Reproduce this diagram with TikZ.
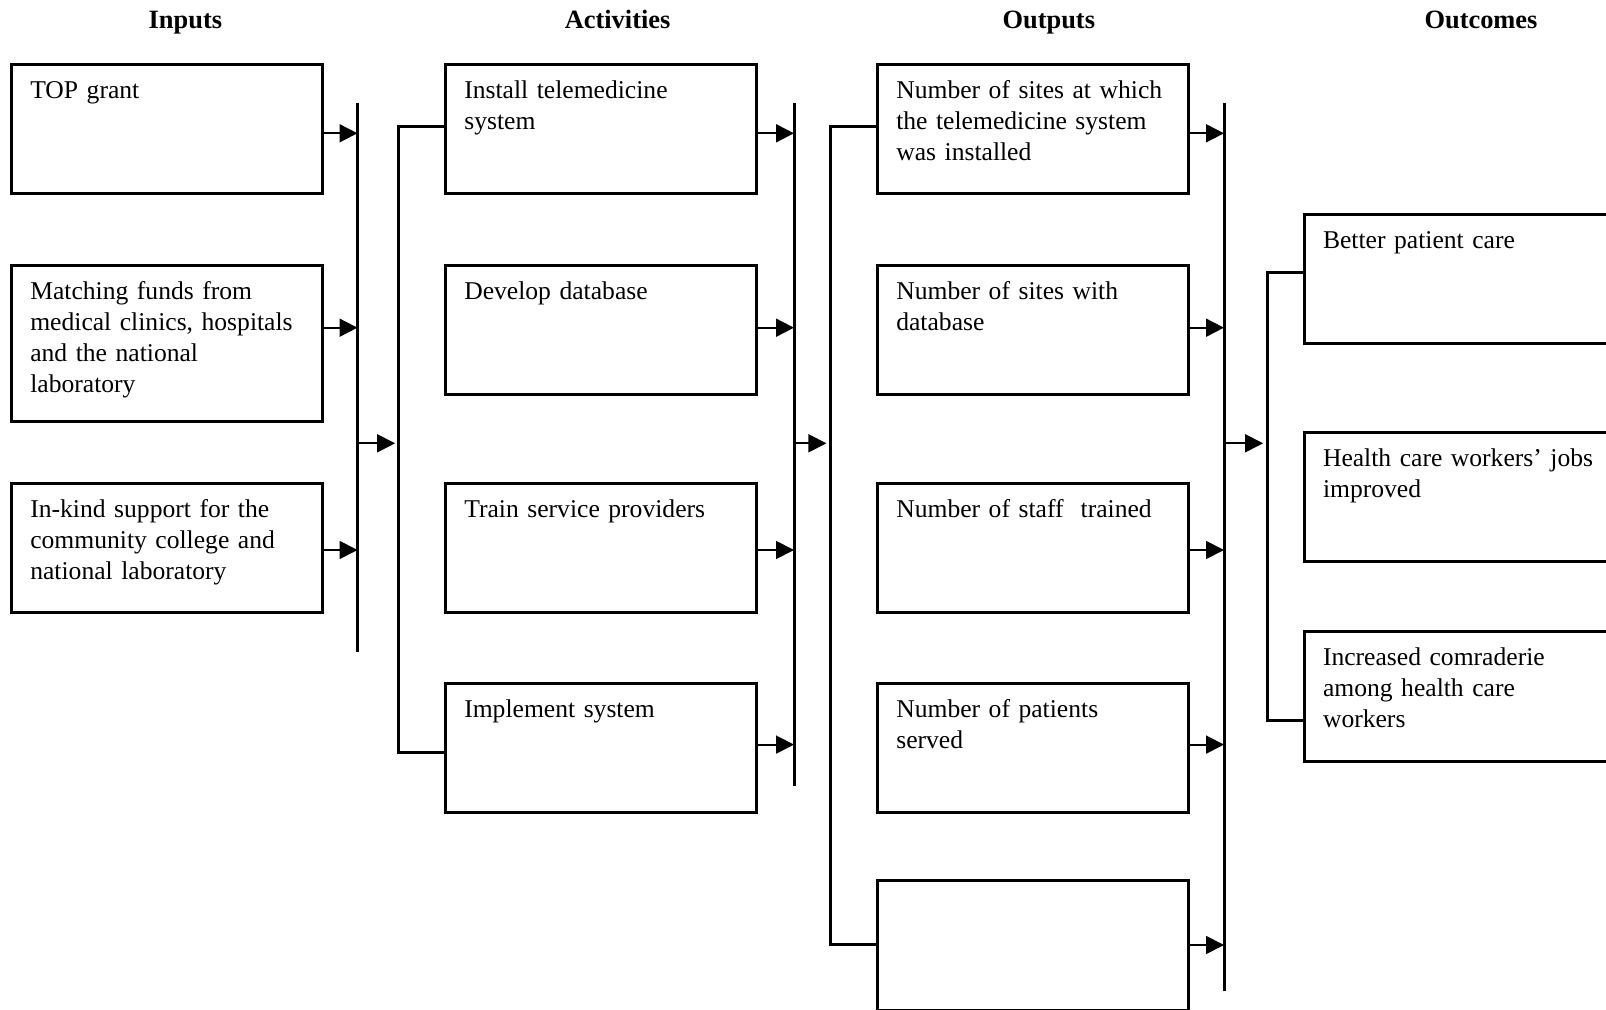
\documentclass[tikz,border=0pt]{standalone}
\usepackage{fontspec}
\setmainfont{Liberation Serif}
\usetikzlibrary{arrows.meta}

\tikzset{
  box/.style={draw, line width=1.5pt, anchor=north west, text width=136.7pt, align=left,
    inner xsep=9.4pt, inner ysep=8pt, text height=9pt, text depth=39.7pt,
    font=\fontsize{12.8}{15.5}\selectfont},
  tallbox/.style={box, text depth=52.7pt},
  widebox/.style={box, text width=142pt},
  head/.style={anchor=base, font=\fontsize{13.2}{15}\selectfont\bfseries},
  bus/.style={line width=1.5pt},
  feed/.style={line width=0.9pt, -{Triangle[length=9pt,width=9pt]}},
}

\begin{document}
\begin{tikzpicture}[x=0.5pt, y=-0.5pt]
    % page from (0,0) to (1606,1010), y runs down
    \useasboundingbox (0,0) rectangle (1606,1010);
    \clip (0,0) rectangle (1606,1010);

    % Column headings
    \node[head] (hIn)  at (185.4,28.3)  {Inputs};
    \node[head] (hAct) at (617.6,28.3)  {Activities};
    \node[head] (hOut) at (1048.8,28.3) {Outputs};
    \node[head] (hOc)  at (1481,28.3)   {Outcomes};

    % Inputs
    \node[box]     (in1) at (10,62.7)  {TOP grant};
    \node[tallbox] (in2) at (10,264.3) {Matching funds from\\medical clinics, hospitals\\and the national\\laboratory};
    \node[box]     (in3) at (10,481.7) {In-kind support for the\\community college and\\national laboratory};

    % Activities
    \node[box] (act1) at (444,62.7)  {Install telemedicine\\system};
    \node[box] (act2) at (444,263.8) {Develop database};
    \node[box] (act3) at (444,481.7) {Train service providers};
    \node[box] (act4) at (444,681.7) {Implement system};

    % Outputs
    \node[box] (out1) at (876,62.7)  {Number of sites at which\\the telemedicine system\\was installed};
    \node[box] (out2) at (876,263.8) {Number of sites with\\database};
    \node[box] (out3) at (876,481.7) {Number of staff~ trained};
    \node[box] (out4) at (876,681.7) {Number of patients\\served};
    \node[box] (out5) at (876,879.3) {};

    % Outcomes (cut off at the right edge)
    \node[widebox] (oc1) at (1302.7,212.6) {Better patient care};
    \node[widebox] (oc2) at (1302.7,430.7) {Health care workers’ jobs\\improved};
    \node[widebox] (oc3) at (1302.7,630.4) {Increased comraderie\\among health care\\workers};

    % rows of the small arrows
    \coordinate (r1) at (0,133.3);
    \coordinate (r2) at (0,327.7);
    \coordinate (r3) at (0,550);
    \coordinate (r4) at (0,744.6);
    \coordinate (r5) at (0,945);
    \coordinate (mid) at (0,443.3);

    % collecting lines
    \coordinate (inBusTop)  at (357.5,103);
    \coordinate (inBusBot)  at (357.5,652.4);
    \coordinate (actBusTop) at (794,103);
    \coordinate (actBusBot) at (794,785.7);
    \coordinate (outBusTop) at (1224,103);
    \coordinate (outBusBot) at (1224,990.7);
    \draw[bus] (inBusTop) -- (inBusBot);
    \draw[bus] (actBusTop) -- (actBusBot);
    \draw[bus] (outBusTop) -- (outBusBot);

    % brackets feeding the next column
    \coordinate (actBr) at (398.7,0);
    \coordinate (outBr) at (830,0);
    \coordinate (ocBr)  at (1267.5,0);
    \draw[bus] (act1.west |- 0,127) -- (actBr |- 0,127) -- (actBr |- 0,752.8) -- (act4.west |- 0,752.8);
    \draw[bus] (out1.west |- 0,127) -- (outBr |- 0,127) -- (outBr |- 0,944) -- (out5.west |- 0,944);
    \draw[bus] (oc1.west |- 0,272.3) -- (ocBr |- 0,272.3) -- (ocBr |- 0,720.3) -- (oc3.west |- 0,720.3);

    % Arrows into the collecting lines
    \draw[feed] (in1.east |- r1) -- (inBusTop |- r1);
    \draw[feed] (in2.east |- r2) -- (inBusTop |- r2);
    \draw[feed] (in3.east |- r3) -- (inBusTop |- r3);

    \draw[feed] (act1.east |- r1) -- (actBusTop |- r1);
    \draw[feed] (act2.east |- r2) -- (actBusTop |- r2);
    \draw[feed] (act3.east |- r3) -- (actBusTop |- r3);
    \draw[feed] (act4.east |- r4) -- (actBusTop |- r4);

    \draw[feed] (out1.east |- r1) -- (outBusTop |- r1);
    \draw[feed] (out2.east |- r2) -- (outBusTop |- r2);
    \draw[feed] (out3.east |- r3) -- (outBusTop |- r3);
    \draw[feed] (out4.east |- r4) -- (outBusTop |- r4);
    \draw[feed] (out5.east |- r5) -- (outBusTop |- r5);

    % Arrows between columns
    \draw[feed, shorten >=1.8pt] (inBusTop |- mid) -- (actBr |- mid);
    \draw[feed, shorten >=1.8pt] (actBusTop |- mid) -- (outBr |- mid);
    \draw[feed, shorten >=2.2pt] (outBusTop |- mid) -- (ocBr |- mid);
\end{tikzpicture}
\end{document}
